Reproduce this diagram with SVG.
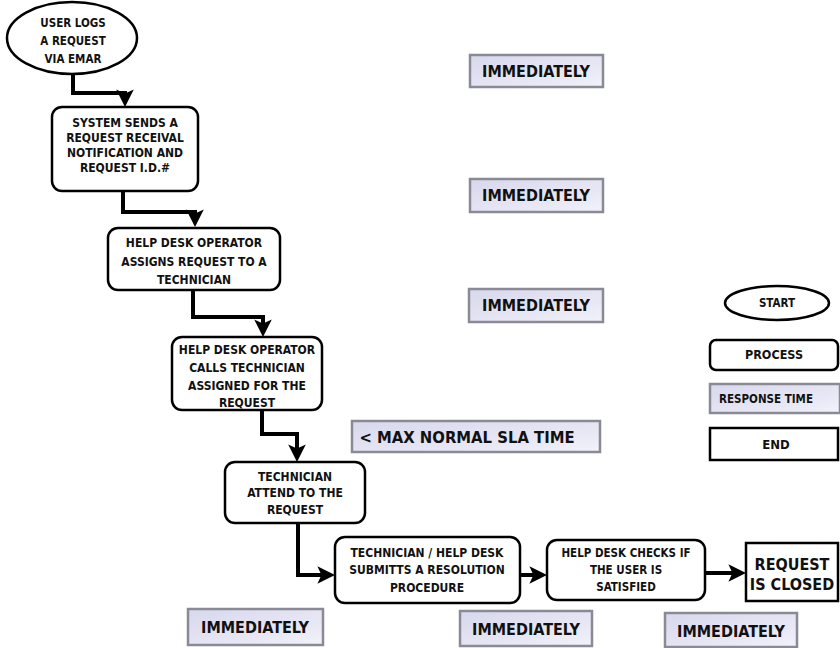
<svg xmlns="http://www.w3.org/2000/svg" width="840" height="648" viewBox="0 0 840 648">
<style>
.n{fill:#fff;stroke:#000;stroke-width:2.5}
.rt{fill:url(#lav);stroke:#8a8a96;stroke-width:2.5}
.t{font-family:"DejaVu Sans Condensed","DejaVu Sans",sans-serif;font-stretch:condensed;font-weight:bold;text-anchor:middle;fill:#111}
.s{font-size:12px}
.m{font-size:16px}
.c{fill:none;stroke:#000;stroke-width:4;stroke-linejoin:miter}
</style>
<defs>
<linearGradient id="lav" x1="0" y1="0" x2="1" y2="1">
<stop offset="0" stop-color="#d8d8ee"/>
<stop offset="0.6" stop-color="#e6e6f4"/>
<stop offset="1" stop-color="#f2f2fa"/>
</linearGradient>
<marker id="ah" markerWidth="4.4" markerHeight="4.4" refX="2.4" refY="2.2" orient="auto" markerUnits="strokeWidth">
<path d="M0,0 L4.4,2.2 L0,4.4 L1,2.2 Z" fill="#000"/>
</marker>
</defs>
<rect width="840" height="648" fill="#fff"/>

<g id="connectors">
<path class="c" d="M73,75 V93 H125 V99" marker-end="url(#ah)"/>
<path class="c" d="M123,192 V212 H195 V219" marker-end="url(#ah)"/>
<path class="c" d="M193,290 V317 H263 V329" marker-end="url(#ah)"/>
<path class="c" d="M262,410 V434 H297 V454" marker-end="url(#ah)"/>
<path class="c" d="M298,523 V575 H327" marker-end="url(#ah)"/>
<path class="c" d="M520,575 H539" marker-end="url(#ah)"/>
<path class="c" d="M705,573 H738" marker-end="url(#ah)"/>
</g>

<g id="start">
<ellipse class="n" cx="72" cy="38" rx="65" ry="36"/>
<text class="t" font-size="11.5" x="73" y="27">USER LOGS</text>
<text class="t" font-size="11.5" x="73" y="45">A REQUEST</text>
<text class="t" font-size="11.5" x="73" y="63">VIA EMAR</text>
</g>

<g id="p1">
<rect class="n" x="52" y="107" width="146" height="84" rx="10"/>
<text class="t s" x="125" y="127">SYSTEM SENDS A</text>
<text class="t s" x="125" y="142">REQUEST RECEIVAL</text>
<text class="t s" x="125" y="157">NOTIFICATION AND</text>
<text class="t s" x="125" y="172">REQUEST I.D.#</text>
</g>

<g id="p2">
<rect class="n" x="108" y="228" width="172" height="62" rx="10"/>
<text class="t s" x="194" y="247">HELP DESK OPERATOR</text>
<text class="t s" x="194" y="266">ASSIGNS REQUEST TO A</text>
<text class="t s" x="194" y="284">TECHNICIAN</text>
</g>

<g id="p3">
<rect class="n" x="172" y="337" width="150" height="73" rx="10"/>
<text class="t s" x="247" y="354">HELP DESK OPERATOR</text>
<text class="t s" x="247" y="372">CALLS TECHNICIAN</text>
<text class="t s" x="247" y="390">ASSIGNED FOR THE</text>
<text class="t s" x="247" y="407">REQUEST</text>
</g>

<g id="p4">
<rect class="n" x="225" y="462" width="140" height="61" rx="10"/>
<text class="t s" x="295" y="481">TECHNICIAN</text>
<text class="t s" x="295" y="497">ATTEND TO THE</text>
<text class="t s" x="295" y="514">REQUEST</text>
</g>

<g id="p5">
<rect class="n" x="335" y="537" width="185" height="66" rx="10"/>
<text class="t s" x="427" y="557">TECHNICIAN / HELP DESK</text>
<text class="t s" x="427" y="574">SUBMITTS A RESOLUTION</text>
<text class="t s" x="427" y="592">PROCEDURE</text>
</g>

<g id="p6">
<rect class="n" x="547" y="540" width="158" height="60" rx="10"/>
<text class="t" font-size="11.5" x="626" y="557">HELP DESK CHECKS IF</text>
<text class="t" font-size="11.5" x="626" y="574">THE USER IS</text>
<text class="t" font-size="11.5" x="626" y="591">SATISFIED</text>
</g>

<g id="end">
<rect class="n" x="746" y="543" width="92" height="58"/>
<text class="t" font-size="16" x="792" y="570">REQUEST</text>
<text class="t" font-size="16" x="792" y="590">IS CLOSED</text>
</g>

<g id="rt1"><rect class="rt" x="470" y="55" width="133" height="32"/><text class="t m" x="536" y="77">IMMEDIATELY</text></g>
<g id="rt2"><rect class="rt" x="470" y="179" width="133" height="33"/><text class="t m" x="536" y="201">IMMEDIATELY</text></g>
<g id="rt3"><rect class="rt" x="469" y="289" width="134" height="33"/><text class="t m" x="536" y="311">IMMEDIATELY</text></g>
<g id="rt4"><rect class="rt" x="352" y="421" width="248" height="31"/><text class="t" font-size="16.5" x="467" y="443">&lt; MAX NORMAL SLA TIME</text></g>
<g id="rt5"><rect class="rt" x="188" y="609" width="135" height="36"/><text class="t m" x="255" y="633">IMMEDIATELY</text></g>
<g id="rt6"><rect class="rt" x="460" y="611" width="132" height="35"/><text class="t m" x="526" y="635">IMMEDIATELY</text></g>
<g id="rt7"><rect class="rt" x="665" y="613" width="132" height="34"/><text class="t m" x="731" y="637">IMMEDIATELY</text></g>

<g id="legend-start"><ellipse class="n" cx="777" cy="303" rx="52" ry="17"/><text class="t" font-size="11.5" x="777" y="307">START</text></g>
<g id="legend-process"><rect class="n" x="710" y="340" width="128" height="30" rx="6"/><text class="t" font-size="12.5" x="774" y="359">PROCESS</text></g>
<g id="legend-rt"><rect class="rt" x="710" y="384" width="130" height="29"/><text class="t" font-size="11.5" x="766" y="403">RESPONSE TIME</text></g>
<g id="legend-end"><rect class="n" x="710" y="428" width="128" height="32"/><text class="t" font-size="13" x="776" y="449">END</text></g>
</svg>
